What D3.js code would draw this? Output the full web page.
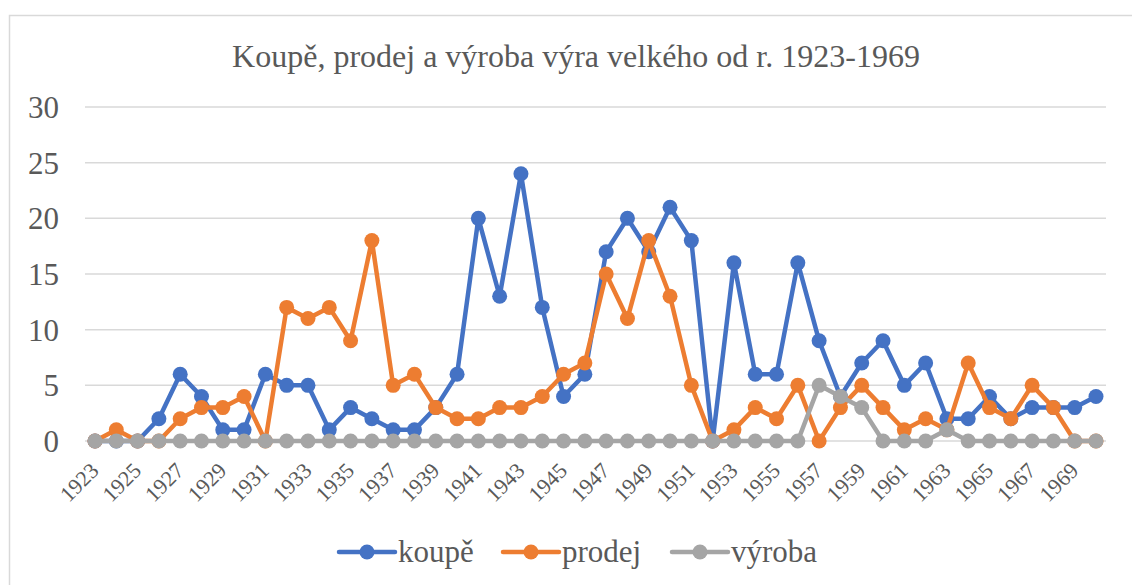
<!DOCTYPE html>
<html><head><meta charset="utf-8">
<script src="https://cdn.jsdelivr.net/npm/d3@7"></script>
<style>body{margin:0;background:#fff}svg{display:block}</style>
</head><body>
<script>
const years = d3.range(1923, 1971);
const koupe = [0,0,0,2,6,4,1,1,6,5,5,1,3,2,1,1,3,6,20,13,24,12,4,6,17,20,17,21,18,0,16,6,6,16,9,4,7,9,5,7,2,2,4,2,3,3,3,4];
const prodej = [0,1,0,0,2,3,3,4,0,12,11,12,9,18,5,6,3,2,2,3,3,4,6,7,15,11,18,13,5,0,1,3,2,5,0,3,5,3,1,2,1,7,3,2,5,3,0,0];
const vyroba = [0,0,0,0,0,0,0,0,0,0,0,0,0,0,0,0,0,0,0,0,0,0,0,0,0,0,0,0,0,0,0,0,0,0,5,4,3,0,0,0,1,0,0,0,0,0,0,0];
const yTicks = [0,5,10,15,20,25,30];
const seriesNames = ["koupě","prodej","výroba"];
const colors = ["#4472C4","#ED7D31","#A5A5A5"];
const title = "Koupě, prodej a výroba výra velkého od r. 1923-1969";

const W=1132,H=585;
const svg=d3.select("body").append("svg").attr("width",W).attr("height",H);
svg.append("rect").attr("x",9.5).attr("y",15.5).attr("width",1140).attr("height",600)
  .attr("fill","#fff").attr("stroke","#D9D9D9").attr("stroke-width",1.5);
const font="'Liberation Serif', 'Times New Roman', serif";
svg.append("text").attr("x",576).attr("y",67).attr("text-anchor","middle")
  .style("font-family",font).attr("font-size",32).attr("fill","#595959").text(title);

const x=d3.scalePoint().domain(years).range([95,1096]);
const y=d3.scaleLinear().domain([0,30]).range([441,107]);

const grid=svg.append("g");
yTicks.forEach(t=>{
  grid.append("line").attr("x1",85).attr("x2",1106).attr("y1",y(t)).attr("y2",y(t))
    .attr("stroke","#D9D9D9").attr("stroke-width",1.5);
});
const ya=svg.append("g").attr("transform","translate(59,0)")
  .call(d3.axisLeft(y).tickValues(yTicks).tickSize(0).tickPadding(0));
ya.attr("font-family",null);
ya.select(".domain").remove();
ya.selectAll("text").style("font-family",font).attr("font-size",31).attr("fill","#595959").attr("dy","0.34em");

const xa=svg.append("g");
years.filter((d,i)=>i%2===0).forEach(yr=>{
  xa.append("text").attr("transform",`translate(${x(yr)+5},${472}) rotate(-45)`)
    .attr("text-anchor","end").style("font-family",font).attr("font-size",22).attr("fill","#595959").text(yr);
});

const data=[koupe,prodej,vyroba];
const line=d3.line().x((d,i)=>x(years[i])).y(d=>y(d));
data.forEach((s,k)=>{
  const g=svg.append("g");
  g.append("path").datum(s).attr("d",line).attr("fill","none").attr("stroke",colors[k])
    .attr("stroke-width",4.5).attr("stroke-linejoin","round").attr("stroke-linecap","round");
  g.selectAll("circle").data(s).join("circle").attr("cx",(d,i)=>x(years[i])).attr("cy",d=>y(d))
    .attr("r",7.5).attr("fill",colors[k]);
});

const legX=[339,503,672];
seriesNames.forEach((n,k)=>{
  const g=svg.append("g").attr("transform",`translate(${legX[k]},552)`);
  g.append("line").attr("x1",0).attr("x2",56).attr("stroke",colors[k]).attr("stroke-width",4.5).attr("stroke-linecap","round");
  g.append("circle").attr("cx",28).attr("r",7.5).attr("fill",colors[k]);
  g.append("text").attr("x",59).attr("dy","0.32em").style("font-family",font).attr("font-size",31).attr("fill","#595959").text(n);
});
</script>
</body></html>
